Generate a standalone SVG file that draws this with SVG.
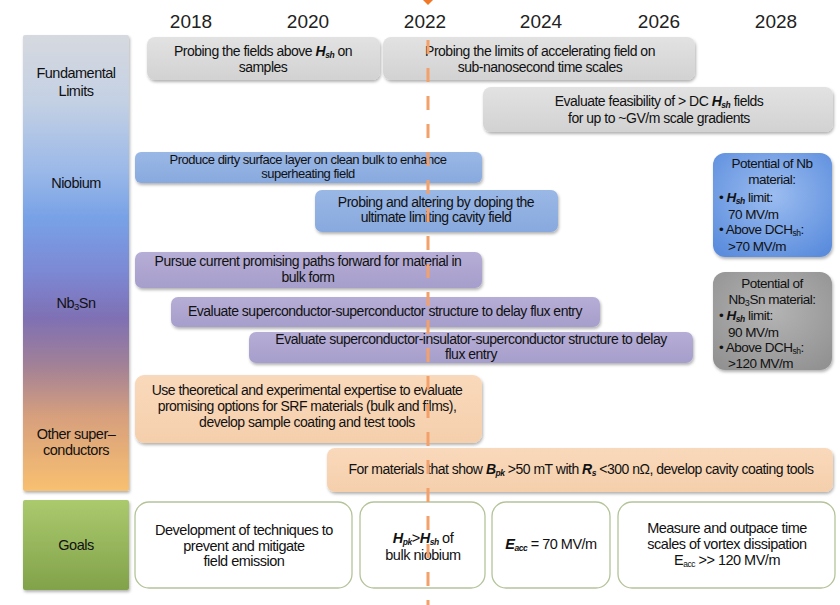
<svg xmlns="http://www.w3.org/2000/svg" width="840" height="605" viewBox="0 0 840 605">
<defs>
<linearGradient id="colGrad" x1="0" y1="0" x2="0" y2="1">
<stop offset="0" stop-color="#d6d9df"/>
<stop offset="0.15" stop-color="#c3d0e4"/>
<stop offset="0.3" stop-color="#9ab8e8"/>
<stop offset="0.4" stop-color="#78a2e6"/>
<stop offset="0.52" stop-color="#7c88d4"/>
<stop offset="0.62" stop-color="#7f70b4"/>
<stop offset="0.72" stop-color="#a08098"/>
<stop offset="0.84" stop-color="#d8a07c"/>
<stop offset="1" stop-color="#f8c070"/>
</linearGradient>
<linearGradient id="goalGrad" x1="0" y1="0" x2="0" y2="1">
<stop offset="0" stop-color="#abca6e"/>
<stop offset="1" stop-color="#82a24a"/>
</linearGradient>
<linearGradient id="greyGrad" x1="0" y1="0" x2="0" y2="1">
<stop offset="0" stop-color="#e2e2e2"/>
<stop offset="1" stop-color="#d2d2d2"/>
</linearGradient>
<linearGradient id="blueGrad" x1="0" y1="0" x2="0" y2="1">
<stop offset="0" stop-color="#9ab8e6"/>
<stop offset="1" stop-color="#88a9de"/>
</linearGradient>
<linearGradient id="purpleGrad" x1="0" y1="0" x2="0" y2="1">
<stop offset="0" stop-color="#b6aed6"/>
<stop offset="1" stop-color="#a69ecb"/>
</linearGradient>
<linearGradient id="peachGrad" x1="0" y1="0" x2="0" y2="1">
<stop offset="0" stop-color="#f9d9bb"/>
<stop offset="1" stop-color="#f5cfac"/>
</linearGradient>
<radialGradient id="nbGrad" cx="0.5" cy="0.4" r="0.7">
<stop offset="0" stop-color="#9cbdf0"/>
<stop offset="1" stop-color="#5b8ddd"/>
</radialGradient>
<radialGradient id="snGrad" cx="0.5" cy="0.4" r="0.7">
<stop offset="0" stop-color="#b4b4b4"/>
<stop offset="1" stop-color="#929292"/>
</radialGradient>
<filter id="sh" x="-10%" y="-20%" width="120%" height="150%">
<feDropShadow dx="1" dy="2" stdDeviation="1.6" flood-color="#000" flood-opacity="0.3"/>
</filter>
</defs>
<style>
text{font-family:"Liberation Sans",Arial,sans-serif;fill:#111;letter-spacing:-0.5px}
.yr{font-size:19px;fill:#222;letter-spacing:0}
.t{font-size:14px;text-anchor:middle}
.t13{font-size:13px;text-anchor:middle}
.g{font-size:14.5px;text-anchor:middle}
.lab{font-size:14.5px;text-anchor:middle}
.r{font-size:13.5px}
.hi{font-style:italic;font-weight:bold}
.sub{font-size:8.5px}
.grey{fill:url(#greyGrad);filter:url(#sh)}
.blue{fill:url(#blueGrad);filter:url(#sh)}
.purple{fill:url(#purpleGrad);filter:url(#sh)}
.peach{fill:url(#peachGrad);filter:url(#sh)}
.goal{fill:#fff;stroke:#b4c49a;stroke-width:1.3}
</style>
<rect width="840" height="605" fill="#fff"/>

<g id="years">
<text class="yr" x="191" y="28" text-anchor="middle">2018</text>
<text class="yr" x="308" y="28" text-anchor="middle">2020</text>
<text class="yr" x="425" y="28" text-anchor="middle">2022</text>
<text class="yr" x="541" y="28" text-anchor="middle">2024</text>
<text class="yr" x="659" y="28" text-anchor="middle">2026</text>
<text class="yr" x="776" y="28" text-anchor="middle">2028</text>
</g>

<g id="category-column">
<rect x="23" y="35" width="106" height="456" rx="2" fill="url(#colGrad)" filter="url(#sh)"/>
<text class="lab" x="76" y="78">Fundamental</text>
<text class="lab" x="76" y="96">Limits</text>
<text class="lab" x="76" y="188">Niobium</text>
<text class="lab" x="76" y="308">Nb<tspan font-size="9.5" dy="2">3</tspan><tspan dy="-2">Sn</tspan></text>
<text class="lab" x="76" y="439">Other super–</text>
<text class="lab" x="76" y="455">conductors</text>
</g>

<g id="goals-label">
<rect x="23" y="500" width="106" height="90" rx="2" fill="url(#goalGrad)" filter="url(#sh)"/>
<text class="lab" x="76" y="550">Goals</text>
</g>

<g id="fl-1">
<rect class="grey" x="147" y="37" width="233" height="43" rx="8"/>
<text class="t" x="263" y="56">Probing the fields above <tspan class="hi">H</tspan><tspan class="hi sub" dy="2">sh</tspan><tspan dy="-2"> on</tspan></text>
<text class="t" x="263" y="72">samples</text>
</g>
<g id="fl-2">
<rect class="grey" x="383" y="37" width="312" height="43" rx="8"/>
<text class="t" x="540" y="56">Probing the limits of accelerating field on</text>
<text class="t" x="540" y="72">sub-nanosecond time scales</text>
</g>
<g id="fl-3">
<rect class="grey" x="483" y="87" width="350" height="45" rx="8"/>
<text class="t" x="659" y="106">Evaluate feasibility of &gt; DC <tspan class="hi">H</tspan><tspan class="hi sub" dy="2">sh</tspan><tspan dy="-2"> fields</tspan></text>
<text class="t" x="659" y="123">for up to ~GV/m scale gradients</text>
</g>

<g id="nb-1">
<rect class="blue" x="135" y="152" width="347" height="31" rx="6"/>
<text class="t13" x="308" y="164">Produce dirty surface layer on clean bulk to enhance</text>
<text class="t13" x="308" y="178">superheating field</text>
</g>
<g id="nb-2">
<rect class="blue" x="315" y="190" width="243" height="42" rx="7"/>
<text class="t" x="436" y="207">Probing and altering by doping the</text>
<text class="t" x="436" y="222">ultimate limiting cavity field</text>
</g>

<g id="sn-1">
<rect class="purple" x="135" y="252" width="347" height="36" rx="7"/>
<text class="t" x="308" y="266">Pursue current promising paths forward for material in</text>
<text class="t" x="308" y="282">bulk form</text>
</g>
<g id="sn-2">
<rect class="purple" x="171" y="297" width="429" height="30" rx="7"/>
<text class="t" x="385" y="316">Evaluate superconductor-superconductor  structure to delay flux entry</text>
</g>
<g id="sn-3">
<rect class="purple" x="249" y="332" width="444" height="31" rx="7"/>
<text class="t" x="471" y="344">Evaluate superconductor-insulator-superconductor  structure to delay</text>
<text class="t" x="471" y="359">flux entry</text>
</g>

<g id="os-1">
<rect class="peach" x="135" y="375" width="347" height="68" rx="9"/>
<text class="t" x="307" y="395">Use theoretical and experimental expertise to evaluate</text>
<text class="t" x="307" y="411">promising options for SRF materials (bulk and films),</text>
<text class="t" x="307" y="427">develop sample coating and test tools</text>
</g>
<g id="os-2">
<rect class="peach" x="327" y="448" width="506" height="44" rx="8"/>
<text class="t" x="581" y="474">For materials that show <tspan class="hi">B</tspan><tspan class="hi sub" dy="2">pk</tspan><tspan dy="-2"> &gt;50 mT with </tspan><tspan class="hi">R</tspan><tspan class="hi sub" dy="2">s</tspan><tspan dy="-2"> &lt;300 nΩ, develop cavity coating tools</tspan></text>
</g>

<g id="nb-potential">
<rect x="713" y="153" width="119" height="104" rx="12" fill="url(#nbGrad)" filter="url(#sh)"/>
<text class="r" x="772" y="168" text-anchor="middle">Potential of Nb</text>
<text class="r" x="772" y="184" text-anchor="middle">material:</text>
<text class="r" x="719" y="202">• <tspan class="hi">H</tspan><tspan class="hi sub" dy="2">sh</tspan><tspan dy="-2"> limit:</tspan></text>
<text class="r" x="728" y="219">70 MV/m</text>
<text class="r" x="719" y="234">• Above DCH<tspan class="sub" dy="2">sh</tspan><tspan dy="-2">:</tspan></text>
<text class="r" x="728" y="251">&gt;70 MV/m</text>
</g>

<g id="sn-potential">
<rect x="713" y="272" width="119" height="98" rx="12" fill="url(#snGrad)" filter="url(#sh)"/>
<text class="r" x="772" y="288" text-anchor="middle">Potential of</text>
<text class="r" x="772" y="304" text-anchor="middle">Nb<tspan font-size="9" dy="2">3</tspan><tspan dy="-2">Sn material:</tspan></text>
<text class="r" x="719" y="320">• <tspan class="hi">H</tspan><tspan class="hi sub" dy="2">sh</tspan><tspan dy="-2"> limit:</tspan></text>
<text class="r" x="728" y="337">90 MV/m</text>
<text class="r" x="719" y="352">• Above DCH<tspan class="sub" dy="2">sh</tspan><tspan dy="-2">:</tspan></text>
<text class="r" x="728" y="368">&gt;120 MV/m</text>
</g>

<g id="goal-1">
<rect class="goal" x="135" y="502" width="217" height="86" rx="14"/>
<text class="g" x="244" y="535">Development of techniques to</text>
<text class="g" x="244" y="551">prevent and mitigate</text>
<text class="g" x="244" y="566">field emission</text>
</g>
<g id="goal-2">
<rect class="goal" x="360" y="502" width="125" height="86" rx="14"/>
<text class="g" x="423" y="543"><tspan class="hi">H</tspan><tspan class="hi sub" dy="2">pk</tspan><tspan dy="-2">&gt;</tspan><tspan class="hi">H</tspan><tspan class="hi sub" dy="2">sh</tspan><tspan dy="-2"> of</tspan></text>
<text class="g" x="423" y="560">bulk niobium</text>
</g>
<g id="goal-3">
<rect class="goal" x="492" y="502" width="118" height="86" rx="14"/>
<text class="g" x="551" y="549"><tspan class="hi">E</tspan><tspan class="hi sub" dy="2">acc</tspan><tspan dy="-2"> = 70 MV/m</tspan></text>
</g>
<g id="goal-4">
<rect class="goal" x="618" y="502" width="217" height="86" rx="14"/>
<text class="g" x="727" y="533">Measure and outpace time</text>
<text class="g" x="727" y="549">scales of vortex dissipation</text>
<text class="g" x="727" y="565">E<tspan class="sub" dy="2">acc</tspan><tspan dy="-2"> &gt;&gt; 120 MV/m</tspan></text>
</g>

<g id="connectors">
<line x1="428" y1="40" x2="428" y2="605" stroke="#f4a06a" stroke-width="3" stroke-dasharray="14 14"/>
<polygon points="423,0 433,0 428,5" fill="#f07828"/>
</g>
</svg>
